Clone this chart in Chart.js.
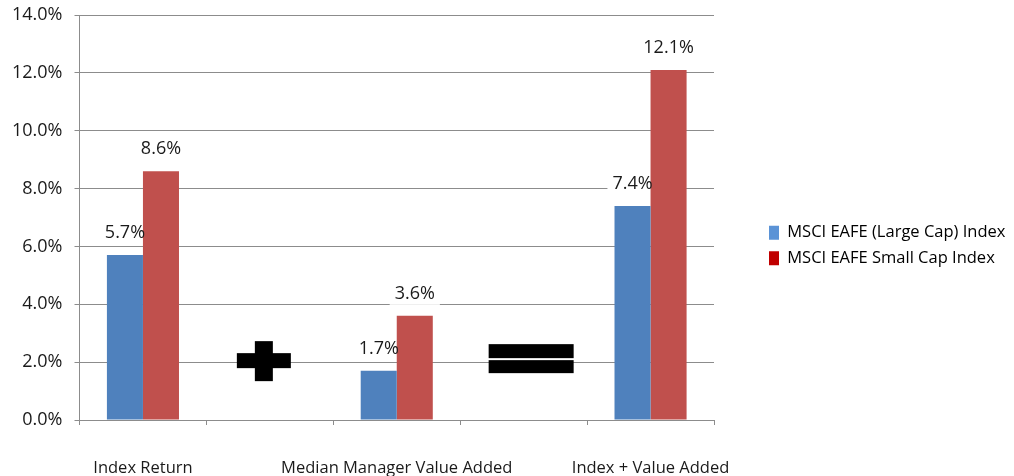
<!DOCTYPE html>
<html>
<head>
<meta charset="utf-8">
<title>MSCI EAFE returns</title>
<script src="https://cdn.jsdelivr.net/npm/chart.js@4.4.1/dist/chart.umd.min.js"></script>
<style>
    html, body { margin: 0; padding: 0; background: #fff; }
    #wrap { width: 1014px; height: 476px; position: relative; }
</style>
</head>
<body>
<div id="wrap"><canvas id="returnsChart"></canvas></div>
<script>
// ── Data ──
const categories = ['Index Return', '', 'Median Manager Value Added', '', 'Index + Value Added'];
const largeCap = [5.7, null, 1.7, null, 7.4];
const smallCap = [8.6, null, 3.6, null, 12.1];
const seriesNames = ['MSCI EAFE (Large Cap) Index', 'MSCI EAFE Small Cap Index'];
const yTicks = [0, 2, 4, 6, 8, 10, 12, 14];
const operators = [null, '+', null, '=', null];

// ── Colours ──
const barColors = ['#4F81BD', '#C0504D'];
const legendColors = ['#5B93D6', '#C00000'];
const gridColor = '#8C8C8C';
const textColor = '#1A1A1A';
const FONT = "'Open Sans', sans-serif";

Chart.defaults.font.family = FONT;
Chart.defaults.color = textColor;

// white boxes behind value labels (hide gridlines), then the text on top
const valueLabels = {
    id: 'valueLabels',
    eachLabel(chart, fn) {
        chart.data.datasets.forEach((ds, i) => {
            chart.getDatasetMeta(i).data.forEach((bar, j) => {
                const v = ds.data[j];
                if (v == null) return;
                fn(bar, v.toFixed(1) + '%');
            });
        });
    },
    beforeDatasetsDraw(chart) {
        const ctx = chart.ctx;
        ctx.save();
        ctx.font = '18px ' + FONT;
        ctx.fillStyle = '#fff';
        this.eachLabel(chart, (bar, text) => {
            const w = ctx.measureText(text).width + 10;
            ctx.fillRect(bar.x - w / 2, bar.y - 22 - 11, w, 22);
        });
        ctx.restore();
    },
    afterDatasetsDraw(chart) {
        const ctx = chart.ctx;
        ctx.save();
        ctx.font = '18px ' + FONT;
        ctx.fillStyle = textColor;
        ctx.textAlign = 'center';
        ctx.textBaseline = 'middle';
        this.eachLabel(chart, (bar, text) => ctx.fillText(text, bar.x, bar.y - 22));
        ctx.restore();
    }
};

// big plus / equals signs in the empty slots
const operatorSigns = {
    id: 'operatorSigns',
    afterDatasetsDraw(chart) {
        const { ctx, scales: { x, y } } = chart;
        ctx.save();
        ctx.fillStyle = '#000';
        operators.forEach((op, i) => {
            if (!op) return;
            const cy = y.getPixelForValue(2);
            if (op === '+') {
                const cx = x.getPixelForValue(i) - 6;
                ctx.fillRect(cx - 27, cy - 9, 54, 15);
                ctx.fillRect(cx - 9, cy - 21, 18, 40);
            } else {
                const cx = x.getPixelForValue(i) + 7;
                ctx.fillRect(cx - 42, cy - 18, 85, 14);
                ctx.fillRect(cx - 42, cy - 2, 85, 13);
            }
        });
        ctx.restore();
    }
};

// keep a gap between the plot and the legend
const legendSpace = {
    id: 'legendSpace',
    beforeInit(chart) {
        const fit = chart.legend.fit;
        chart.legend.fit = function () {
            fit.call(this);
            this.width = 300;
        };
    },
    afterLayout(chart) {
        chart.legend.left = chart.chartArea.right + 46;
    }
};

new Chart(document.getElementById('returnsChart'), {
    type: 'bar',
    data: {
        labels: categories,
        datasets: [
            { label: seriesNames[0], data: largeCap, backgroundColor: barColors[0] },
            { label: seriesNames[1], data: smallCap, backgroundColor: barColors[1] }
        ]
    },
    options: {
        responsive: true, maintainAspectRatio: false,
        animation: false,
        categoryPercentage: 0.568,
        barPercentage: 1,
        layout: { padding: { left: 12, top: 15, right: 0, bottom: 0 } },
        plugins: {
            tooltip: { enabled: false },
            legend: {
                position: 'right',
                labels: {
                    font: { size: 16.5 },
                    color: textColor,
                    boxWidth: 10,
                    boxHeight: 14,
                    padding: 9,
                    generateLabels: () => seriesNames.map((name, i) => ({
                        text: name,
                        fillStyle: legendColors[i],
                        strokeStyle: legendColors[i],
                        lineWidth: 0,
                        datasetIndex: i
                    }))
                }
            }
        },
        scales: {
            x: {
                grid: { offset: true, drawOnChartArea: false, color: gridColor, tickLength: 5 },
                border: { color: gridColor },
                ticks: { font: { size: 16.5 }, color: textColor, padding: 33, maxRotation: 0, autoSkip: false },
                afterFit: axis => { axis.height = 56; }
            },
            y: {
                min: 0, max: 14,
                afterBuildTicks: axis => { axis.ticks = yTicks.map(v => ({ value: v })); },
                grid: { color: gridColor, tickLength: 5 },
                border: { color: gridColor },
                ticks: { font: { size: 18 }, color: textColor, padding: 12, callback: v => v.toFixed(1) + '%' },
                afterFit: axis => {
                    axis.width = 67.5;
                    axis.paddingTop = 0;
                    axis.paddingBottom = 0;
                }
            }
        }
    },
    plugins: [valueLabels, operatorSigns, legendSpace]
});
</script>
</body>
</html>
